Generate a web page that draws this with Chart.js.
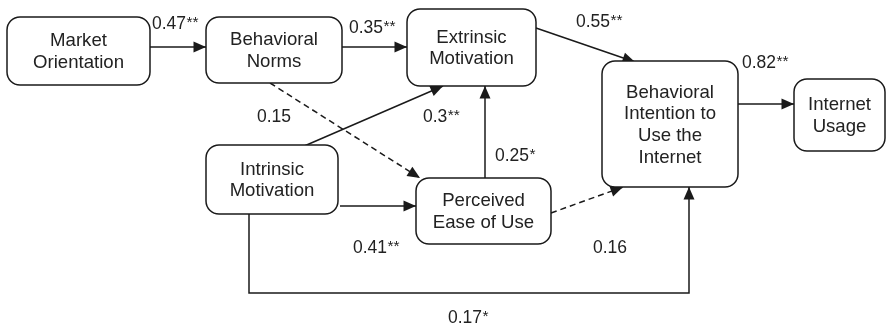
<!DOCTYPE html>
<html>
<head>
<meta charset="utf-8">
<script src="https://cdn.jsdelivr.net/npm/chart.js"></script>
<style>
  html, body { margin: 0; padding: 0; background: #fff; }
  #wrap { width: 892px; height: 328px; }
</style>
</head>
<body>
<div id="wrap"><canvas id="pathChart" width="892" height="328"></canvas></div>
<script>
// --- Datos del modelo ---
const constructs = [
  ['Market', 'Orientation'],
  ['Behavioral', 'Norms'],
  ['Extrinsic', 'Motivation'],
  ['Behavioral', 'Intention to', 'Use the', 'Internet'],
  ['Internet', 'Usage'],
  ['Intrinsic', 'Motivation'],
  ['Perceived', 'Ease of Use']
];
const pathFrom     = [0, 1, 2, 3, 1, 5, 6, 5, 6, 5];
const pathTo       = [1, 2, 3, 4, 6, 2, 2, 6, 3, 3];
const coefficients = [0.47, 0.35, 0.55, 0.82, 0.15, 0.3, 0.25, 0.41, 0.16, 0.17];
const significance = ['**', '**', '**', '**', '', '**', '*', '**', '', '*'];

// --- Disposición (coordenadas del lienzo en unidades de la escala) ---
const boxLayout = [
  { x: 7,   y: 17,  w: 143, h: 68 },
  { x: 206, y: 17,  w: 136, h: 66 },
  { x: 407, y: 9,   w: 129, h: 77 },
  { x: 602, y: 61,  w: 136, h: 126 },
  { x: 794, y: 79,  w: 91,  h: 72 },
  { x: 206, y: 145, w: 132, h: 69 },
  { x: 416, y: 178, w: 135, h: 66 }
];
const pathRoutes = [
  [[150, 47], [206, 47]],
  [[342, 47], [407, 47]],
  [[536, 28], [635, 62]],
  [[738, 104], [794, 104]],
  [[270, 83], [420, 178]],
  [[302, 147], [443, 86]],
  [[485, 178], [485, 86]],
  [[340, 206], [416, 206]],
  [[551, 213], [623, 187]],
  [[249, 214], [249, 293], [689, 293], [689, 187]]
];
const labelAt = [
  [152, 29], [349, 33], [576, 27], [742, 68], [257, 122],
  [423, 122], [495, 161], [353, 253], [593, 253], [448, 323]
];

const ink = '#1a1a1a';
const font = '"Liberation Sans", Arial, Helvetica, sans-serif';
const numFont = '17.5px ' + font;
const starFont = '15.5px ' + font;

const datasets = pathRoutes.map((route, i) => ({
  label: constructs[pathFrom[i]].join(' ') + ' → ' + constructs[pathTo[i]].join(' '),
  data: route.map(p => ({ x: p[0], y: p[1] })),
  showLine: true,
  borderColor: ink,
  borderWidth: 1.5,
  borderDash: significance[i] === '' ? [6, 4] : [],
  pointRadius: 0,
  fill: false,
  tension: 0
}));

// Cajas, textos, puntas de flecha y coeficientes
const diagramPlugin = {
  id: 'diagram',
  afterDatasetsDraw(chart) {
    const { ctx, scales: { x, y } } = chart;
    ctx.save();

    // puntas de flecha
    chart.data.datasets.forEach(ds => {
      const n = ds.data.length;
      const a = ds.data[n - 2], b = ds.data[n - 1];
      const ax = x.getPixelForValue(a.x), ay = y.getPixelForValue(a.y);
      const bx = x.getPixelForValue(b.x), by = y.getPixelForValue(b.y);
      const ang = Math.atan2(by - ay, bx - ax);
      const len = 12.5, half = 5.5;
      ctx.beginPath();
      ctx.moveTo(bx, by);
      ctx.lineTo(bx - len * Math.cos(ang) + half * Math.sin(ang), by - len * Math.sin(ang) - half * Math.cos(ang));
      ctx.lineTo(bx - len * Math.cos(ang) - half * Math.sin(ang), by - len * Math.sin(ang) + half * Math.cos(ang));
      ctx.closePath();
      ctx.fillStyle = ink;
      ctx.fill();
    });

    // cajas
    boxLayout.forEach((b, i) => {
      const left = x.getPixelForValue(b.x), top = y.getPixelForValue(b.y);
      const right = x.getPixelForValue(b.x + b.w), bottom = y.getPixelForValue(b.y + b.h);
      ctx.beginPath();
      ctx.roundRect(left, top, right - left, bottom - top, 13);
      ctx.fillStyle = '#fff';
      ctx.fill();
      ctx.lineWidth = 1.5;
      ctx.strokeStyle = ink;
      ctx.stroke();

      const lines = constructs[i];
      const lh = 21.7;
      const cx = (left + right) / 2, cy = (top + bottom) / 2;
      ctx.fillStyle = '#222';
      ctx.font = '18.6px ' + font;
      ctx.textAlign = 'center';
      ctx.textBaseline = 'middle';
      lines.forEach((t, k) => {
        ctx.fillText(t, cx, cy + (k - (lines.length - 1) / 2) * lh + 1);
      });
    });

    // coeficientes con asteriscos elevados
    ctx.textAlign = 'left';
    ctx.textBaseline = 'alphabetic';
    ctx.fillStyle = '#222';
    coefficients.forEach((c, i) => {
      const px = x.getPixelForValue(labelAt[i][0]), py = y.getPixelForValue(labelAt[i][1]);
      const num = String(c);
      ctx.font = numFont;
      ctx.fillText(num, px, py);
      const w = ctx.measureText(num).width;
      if (significance[i]) {
        ctx.font = starFont;
        ctx.fillText(significance[i], px + w + 0.5, py - 2);
      }
    });

    ctx.restore();
  }
};

new Chart(document.getElementById('pathChart'), {
  type: 'scatter',
  data: { datasets },
  options: {
    responsive: false,
    animation: false,
    layout: { padding: 0 },
    scales: {
      x: { type: 'linear', min: 0, max: 892, display: false },
      y: { type: 'linear', min: 0, max: 328, reverse: true, display: false }
    },
    plugins: {
      legend: { display: false },
      tooltip: { enabled: false }
    }
  },
  plugins: [diagramPlugin]
});
</script>
</body>
</html>
